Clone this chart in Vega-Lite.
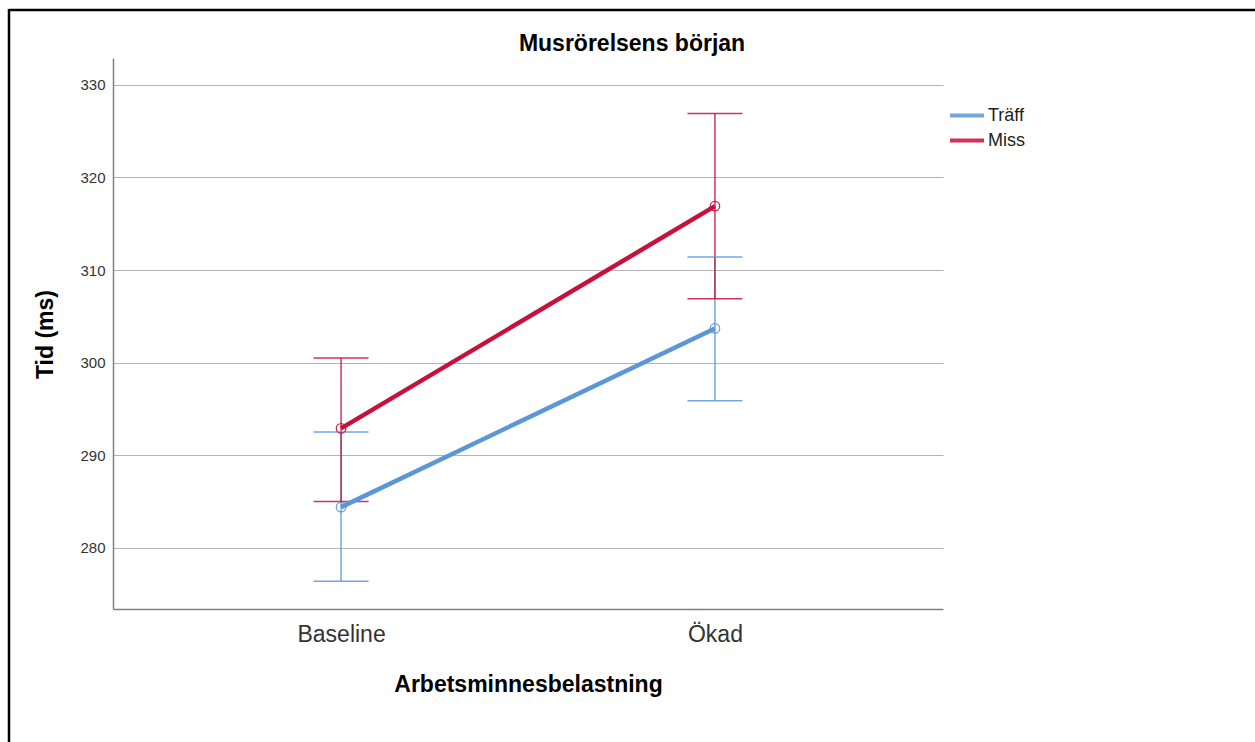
{
  "$schema": "https://vega.github.io/schema/vega-lite/v6.json",
  "autosize": {"type": "none"},
  "width": 830,
  "height": 551,
  "padding": {"left": 113, "top": 58, "right": 312, "bottom": 133},
  "background": "white",
  "title": {
    "text": "Musrörelsens början",
    "font": "Liberation Sans",
    "fontSize": 23,
    "fontWeight": "bold",
    "color": "#000000",
    "anchor": "middle",
    "frame": "group",
    "dx": 104,
    "offset": -66,
    "baseline": "alphabetic"
  },
  "data": {
    "values": [
      {"load": "Baseline", "group": "Träff", "mean": 284.4, "lo": 276.4, "hi": 292.5},
      {"load": "Ökad", "group": "Träff", "mean": 303.7, "lo": 295.9, "hi": 311.4},
      {"load": "Baseline", "group": "Miss", "mean": 292.9, "lo": 285.0, "hi": 300.5},
      {"load": "Ökad", "group": "Miss", "mean": 316.9, "lo": 306.9, "hi": 326.9}
    ]
  },
  "encoding": {
    "x": {
      "field": "load",
      "type": "nominal",
      "sort": ["Baseline", "Ökad"],
      "scale": {"type": "point", "padding": 0.61},
      "axis": {
        "title": "Arbetsminnesbelastning",
        "labelAngle": 0,
        "labelFontSize": 23,
        "labelColor": "#333333",
        "labelPadding": 14,
        "ticks": false,
        "tickSize": 0,
        "grid": false,
        "titleFontSize": 23,
        "titleFontWeight": "bold",
        "titleColor": "#000000",
        "titleBaseline": "top",
        "titleY": 64
      }
    },
    "color": {
      "field": "group",
      "type": "nominal",
      "scale": {"domain": ["Träff", "Miss"], "range": ["#5b96d9", "#c8103c"]},
      "legend": {
        "title": null,
        "orient": "none",
        "legendX": 835,
        "legendY": 47,
        "padding": 0,
        "symbolType": "M-1,0H3",
        "symbolSize": 289,
        "symbolStrokeWidth": 4,
        "symbolFillColor": "transparent",
        "labelFontSize": 18,
        "labelColor": "#222222",
        "labelOffset": 19,
        "rowPadding": 5
      }
    }
  },
  "layer": [
    {
      "data": {"values": [{"side": "top"}]},
      "mark": {"type": "rule", "color": "#000000", "strokeWidth": 2.5},
      "encoding": {
        "x": {"value": -104},
        "x2": {"value": 1142},
        "y": {"value": -48},
        "color": {"value": "#000000"}
      }
    },
    {
      "data": {"values": [{"side": "left"}]},
      "mark": {"type": "rule", "color": "#000000", "strokeWidth": 2.5},
      "encoding": {
        "x": {"value": -104},
        "y": {"value": -49},
        "y2": {"value": 684},
        "color": {"value": "#000000"}
      }
    },
    {
      "mark": {"type": "rule", "strokeWidth": 1.5, "opacity": 0.85},
      "encoding": {
        "y": {
          "field": "lo",
          "type": "quantitative",
          "scale": {"domain": [273.4, 332.9], "nice": false, "zero": false},
          "axis": {
            "title": "Tid (ms)",
            "values": [280, 290, 300, 310, 320, 330],
            "labelFontSize": 15,
            "labelColor": "#333333",
            "labelPadding": 8,
            "ticks": false,
            "tickSize": 0,
            "grid": true,
            "gridColor": "#b4b4b4",
            "gridWidth": 1,
            "titleFontSize": 23,
            "titleFontWeight": "bold",
            "titleColor": "#000000",
            "titleAngle": -90,
            "titleBaseline": "bottom",
            "titleX": -56,
            "titleY": 276
          }
        },
        "y2": {"field": "hi"}
      }
    },
    {
      "mark": {"type": "tick", "size": 55, "thickness": 1.5, "opacity": 0.85},
      "encoding": {"y": {"field": "lo", "type": "quantitative"}}
    },
    {
      "mark": {"type": "tick", "size": 55, "thickness": 1.5, "opacity": 0.85},
      "encoding": {"y": {"field": "hi", "type": "quantitative"}}
    },
    {
      "mark": {"type": "line", "strokeWidth": 4.5},
      "encoding": {"y": {"field": "mean", "type": "quantitative"}}
    },
    {
      "mark": {"type": "point", "filled": false, "size": 90, "strokeWidth": 1.3, "opacity": 0.9},
      "encoding": {"y": {"field": "mean", "type": "quantitative"}}
    }
  ],
  "config": {
    "font": "Liberation Sans",
    "view": {"stroke": null},
    "axis": {
      "domainColor": "#808080",
      "domainWidth": 1.5,
      "labelFont": "Liberation Sans",
      "titleFont": "Liberation Sans"
    },
    "legend": {"labelFont": "Liberation Sans"}
  }
}
